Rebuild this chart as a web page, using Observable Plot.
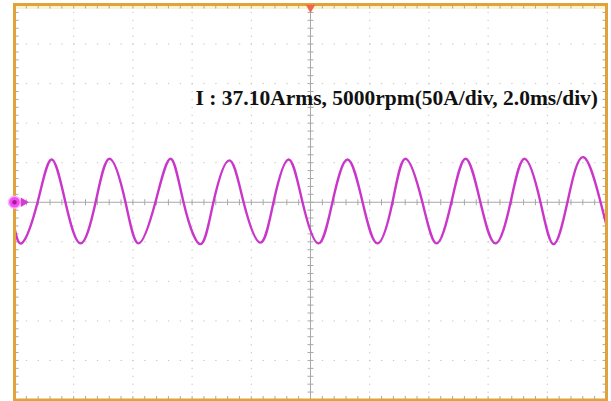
<!DOCTYPE html>
<html>
<head>
<meta charset="utf-8">
<script src="https://cdn.jsdelivr.net/npm/d3@7"></script>
<script src="https://cdn.jsdelivr.net/npm/@observablehq/plot@0.6"></script>
<style>
  html, body { margin: 0; padding: 0; background: #fff; }
  #chart svg { display: block; }
</style>
</head>
<body>
<div id="chart"></div>
<script>
// Waveform: time (ms) and phase current (A)
const timeMs = [0, 0.27, 0.78, 1.25, 1.72, 2.23, 2.74, 3.21, 3.75, 4.19, 4.76, 5.27, 5.71, 6.28, 6.72, 7.26, 7.74, 8.31, 8.75, 9.26, 9.73, 10.27, 10.74, 11.25, 11.76, 12.26, 12.77, 13.21, 13.78, 14.26, 14.76, 15.24, 15.74, 16.25, 16.76, 17.23, 17.77, 18.21, 18.68, 19.22, 19.80, 20.0];
const currentA = [-33, -51, 0, 54, 0, -52, 0, 55, 0, -52, 0, 55, 0, -53, 0, 53, 0, -51, 0, 54, 0, -52, 0, 54, 0, -52, 0, 55, 0, -52, 0, 55, 0, -52, 0, 55, 0, -53, 0, 57, 0, -29];

// Screen divisions (2.0 ms/div, 50 A/div)
const xGrid = [2, 4, 6, 8, 12, 14, 16, 18];
const yGrid = [-200, -150, -100, -50, 50, 100, 150, 200];
const xCenter = [10];
const yCenter = [0];
const titleText = ["I : 37.10Arms, 5000rpm(50A/div, 2.0ms/div)"];

const data = timeMs.map((t, i) => ({t, a: currentA[i]}));
const xMinor = d3.range(0, 20.0001, 0.4);
const yMinor = d3.range(-250, 250.0001, 10);

const seg = (x1, y1, x2, y2) => ({draw(ctx) { ctx.moveTo(x1, y1); ctx.lineTo(x2, y2); }});
const tickGray = "#a8a8a8";

const chart = Plot.plot({
  width: 611,
  height: 401,
  marginLeft: 14,
  marginRight: 5,
  marginTop: 4,
  marginBottom: 1.5,
  x: {domain: [0, 20], axis: null},
  y: {domain: [-250, 250], axis: null},
  style: {background: "#fff"},
  marks: [
    Plot.ruleY([250], {stroke: "#fbf2cf", strokeWidth: 3, dy: 3}),
    Plot.ruleY(yGrid, {stroke: "#c4c4c4", strokeWidth: 1, strokeDasharray: "1.3 10.54"}),
    Plot.ruleX(xGrid, {stroke: "#c4c4c4", strokeWidth: 1, strokeDasharray: "1.3 6.61"}),
    Plot.ruleY(yCenter, {stroke: "#a8a8a8", strokeWidth: 1}),
    Plot.ruleX(xCenter, {stroke: "#a8a8a8", strokeWidth: 1}),
    Plot.dot(xMinor, {x: d => d, y: () => 0, symbol: seg(0, -3, 0, 3), fill: "none", stroke: tickGray, strokeWidth: 1}),
    Plot.dot(yMinor, {y: d => d, x: () => 10, symbol: seg(-3, 0, 3, 0), fill: "none", stroke: tickGray, strokeWidth: 1}),
    Plot.dot(xMinor, {x: d => d, frameAnchor: "top", symbol: seg(0, 0, 0, 4), fill: "none", stroke: tickGray, strokeWidth: 1}),
    Plot.dot(xMinor, {x: d => d, frameAnchor: "bottom", symbol: seg(0, -4, 0, 0), fill: "none", stroke: tickGray, strokeWidth: 1}),
    Plot.dot(yMinor, {y: d => d, frameAnchor: "left", symbol: seg(0, 0, 4, 0), fill: "none", stroke: tickGray, strokeWidth: 1}),
    Plot.dot(yMinor, {y: d => d, frameAnchor: "right", symbol: seg(-4, 0, 0, 0), fill: "none", stroke: tickGray, strokeWidth: 1}),
    // waveform
    Plot.line(data, {x: "t", y: "a", curve: "natural", stroke: "#c936c9", strokeWidth: 2.4}),
    Plot.frame({stroke: "#e0a23a", strokeWidth: 3}),
    Plot.dot([0], {x: d => d, y: () => 0, r: 6, fill: "#f04cf0", stroke: "#fcb4fc", strokeWidth: 1.5}),
    Plot.dot([0], {x: d => d, y: () => 0, r: 2.2, fill: "#a8189c"}),
    Plot.dot([0], {x: d => d, y: () => 0, dx: 9, r: 3.5, symbol: "triangle", rotate: 90, fill: "#d23cd2"}),
    Plot.dot([10], {x: d => d, frameAnchor: "top", dy: 3, r: 3.5, symbol: "triangle", rotate: 180, fill: "#f06448"}),
    Plot.text(titleText, {text: d => d, frameAnchor: "top-left", dx: 181, dy: 85, textAnchor: "start", lineAnchor: "top",
      fontFamily: "Liberation Serif, Times New Roman, serif", fontWeight: "bold", fontSize: 21.5, fill: "#111"})
  ]
});
document.getElementById("chart").appendChild(chart);
</script>
</body>
</html>
